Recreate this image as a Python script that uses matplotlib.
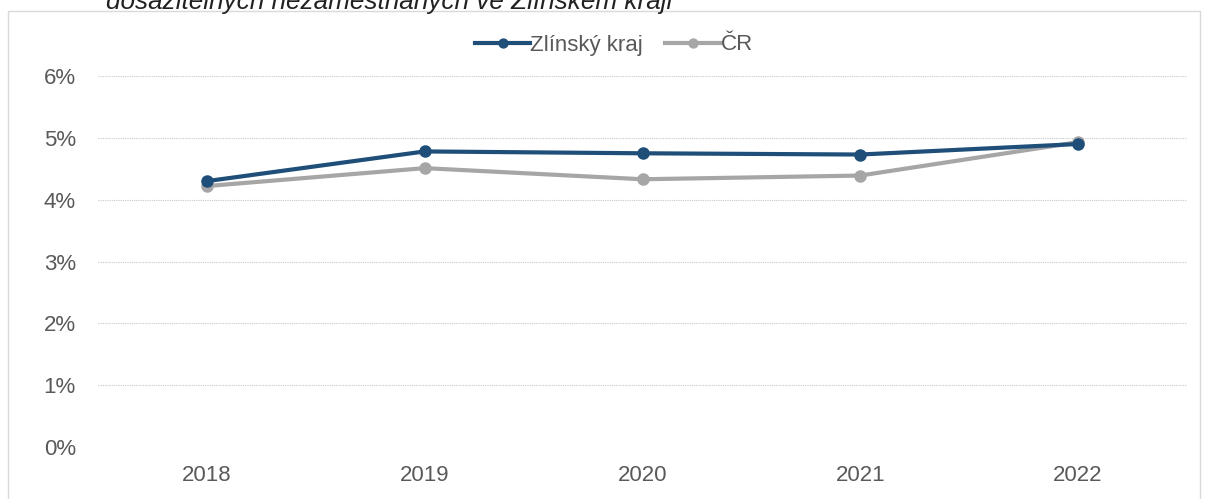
import numpy as np
import matplotlib.pyplot as plt
from matplotlib.patches import Rectangle
from matplotlib.ticker import FuncFormatter
from matplotlib import font_manager

# Data (share in %)
years = ["2018", "2019", "2020", "2021", "2022"]
zlinsky = [4.30, 4.78, 4.75, 4.73, 4.90]
cr = [4.22, 4.51, 4.33, 4.39, 4.93]

plt.rcParams['font.family'] = ['Liberation Sans', 'DejaVu Sans']
text_col = "#595959"
blue = "#1F4E79"
grey = "#A6A6A6"

fig = plt.figure(figsize=(12.08, 4.99), dpi=100)
ax = fig.add_axes([98/1208, 1 - 447/499, 1089/1208, 371/499])

x = np.arange(len(years))
ax.plot(x, cr, color=grey, lw=3, marker="o", ms=8, label="ČR", zorder=3)
ax.plot(x, zlinsky, color=blue, lw=3, marker="o", ms=8, label="Zlínský kraj", zorder=4)

ax.set_xlim(-0.5, len(years) - 0.5)
ax.set_ylim(0, 6)
ax.set_yticks(range(0, 7))
ax.yaxis.set_major_formatter(FuncFormatter(lambda v, p: f"{v:.0f}%"))
ax.set_xticks(x)
ax.set_xticklabels(years)
ax.tick_params(length=0, labelsize=16, colors=text_col)
ax.tick_params(axis="x", pad=13)
ax.tick_params(axis="y", pad=16)
ax.grid(axis="y", color="#C8C8C8", lw=0.8, ls=(0, (1, 1)))
ax.set_axisbelow(True)
for s in ax.spines.values():
    s.set_visible(False)

handles, labels = ax.get_legend_handles_labels()
leg = fig.legend(handles[::-1], labels[::-1], loc="center", bbox_to_anchor=(614/1208, 1 - 45/499),
                 ncol=2, frameon=False, fontsize=16, handlelength=2.5, columnspacing=1.0,
                 handletextpad=0.0, markerscale=0.8)
for t in leg.get_texts():
    t.set_color(text_col)

# outer chart frame
fig.patches.append(Rectangle((8/1208, -0.01), 1192/1208, 1 - 11/499 + 0.01,
                             transform=fig.transFigure, fill=False,
                             edgecolor="#D9D9D9", lw=1))

# cropped heading above the chart
names = {f.name for f in font_manager.fontManager.ttflist}
title_font = ['Liberation Sans Narrow'] if 'Liberation Sans Narrow' in names else ['Liberation Sans']
fig.text(106/1208, 1 - 9/499, "dosažitelných nezaměstnaných ve Zlínském kraji",
         style="italic", fontsize=22 if title_font[0].endswith('Narrow') else 18.8,
         family=title_font + ['DejaVu Sans'], color="#222222", va="baseline", ha="left")

fig.savefig("out.png", dpi=100)
